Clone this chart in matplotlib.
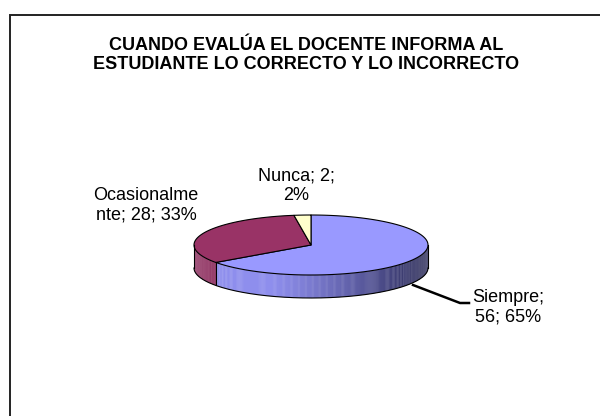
import numpy as np
import matplotlib
matplotlib.use("Agg")
from matplotlib import pyplot as plt
from matplotlib.patches import Polygon
from matplotlib import colors as mcolors

plt.rcParams["font.family"] = ["Liberation Sans", "DejaVu Sans"]

title = "CUANDO EVALÚA EL DOCENTE INFORMA AL\nESTUDIANTE LO CORRECTO Y LO INCORRECTO"
categories = ["Siempre", "Ocasionalmente", "Nunca"]
values = [56, 28, 2]
percents = ["65%", "33%", "2%"]
label_texts = ["Siempre;\n56; 65%", "Ocasionalme\nnte; 28; 33%", "Nunca; 2;\n2%"]
top_colors = ["#9999ff", "#993366", "#ffffcc"]
side_dark = ["#2e2e5c", "#6e2248", "#b0b090"]

# pie geometry in pixels
cx, cy = 311.0, 245.0
rx, ry = 117.0, 30.0
depth = 23.0

fig = plt.figure(figsize=(6.0, 4.16), dpi=100)
ax = fig.add_axes([0, 0, 1, 1])
ax.set_xlim(0, 600)
ax.set_ylim(416, 0)
ax.axis("off")

# frame (only top and left visible)
ax.plot([9.5, 9.5, 605], [425, 14.5, 14.5], color="#222222", lw=1.4,
        solid_joinstyle="miter", clip_on=False)


def pt(theta, dy=0.0):
    return cx + rx * np.cos(theta), cy - ry * np.sin(theta) + dy


total = sum(values)
starts = []
a = np.pi / 2
for v in values:
    sweep = 2 * np.pi * v / total
    starts.append((a - sweep, a))
    a -= sweep

# side walls (front half only, angles between pi and 2pi)
for i, (a0, a1) in enumerate(starts):
    lo = a0 % (2 * np.pi)
    hi = lo + (a1 - a0)
    for base in (0.0, 2 * np.pi):
        s = max(lo, np.pi + base)
        e = min(hi, 2 * np.pi + base)
        if e <= s:
            continue
        n = max(int((e - s) / 0.01), 2)
        edges = np.linspace(s, e, n + 1)
        light = np.array(mcolors.to_rgb(top_colors[i])) * 0.93
        dark = np.array(mcolors.to_rgb(side_dark[i]))
        for t0, t1 in zip(edges[:-1], edges[1:]):
            tm = 0.5 * (t0 + t1)
            f = np.clip((np.cos(tm) + 0.35) / 1.3, 0, 1) ** 1.2
            col = light * (1 - f) + dark * f
            ts = np.linspace(t0, t1 + 0.004, 3)
            top = [pt(t) for t in ts]
            bot = [pt(t, depth) for t in ts[::-1]]
            ax.add_patch(Polygon(top + bot, closed=True, facecolor=col,
                                 edgecolor="none"))

# outline of side
ts = np.linspace(np.pi, 2 * np.pi, 200)
ax.plot(*zip(*[pt(t, depth) for t in ts]), color="black", lw=0.8)
ax.plot([cx - rx, cx - rx], [cy, cy + depth], color="black", lw=0.8)
ax.plot([cx + rx, cx + rx], [cy, cy + depth], color="black", lw=0.8)
for a0, a1 in starts:
    t = a0 % (2 * np.pi)
    if np.pi < t < 2 * np.pi:
        x0, y0 = pt(t)
        ax.plot([x0, x0], [y0, y0 + depth], color="black", lw=0.8)

# top faces
for i, (a0, a1) in enumerate(starts):
    ts = np.linspace(a0, a1, 200)
    poly = [(cx, cy)] + [pt(t) for t in ts]
    ax.add_patch(Polygon(poly, closed=True, facecolor=top_colors[i],
                         edgecolor="black", lw=0.8, joinstyle="round"))

# title
ax.text(306, 55, title, ha="center", va="center", fontsize=13,
        fontweight="bold", linespacing=1.1)

# labels
ax.text(508, 307, label_texts[0], ha="center", va="center", fontsize=13,
        linespacing=1.2)
ax.text(146, 205, label_texts[1], ha="center", va="center", fontsize=13,
        linespacing=1.2)
ax.text(296, 186, label_texts[2], ha="center", va="center", fontsize=13,
        linespacing=1.2)

# leader line for Siempre
ax.plot([413, 460, 469], [285, 303, 303], color="black", lw=1.8)

fig.savefig("out.png", dpi=100)
